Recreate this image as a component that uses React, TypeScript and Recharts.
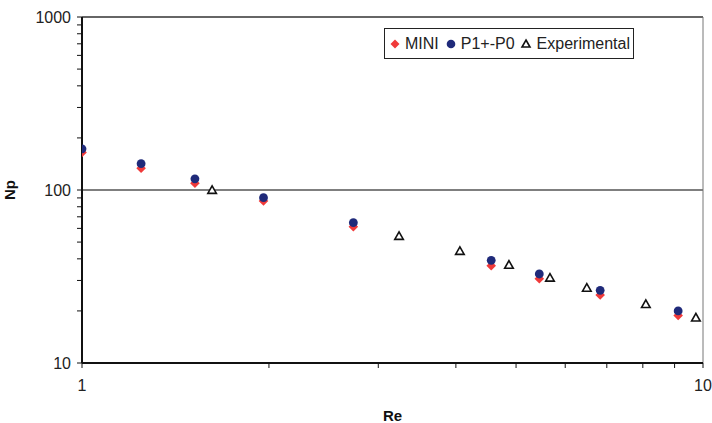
import React from 'react';
import {
  ScatterChart,
  Scatter,
  XAxis,
  YAxis,
  ReferenceLine,
  Legend,
} from 'recharts';

// Reynolds numbers of the computed points
const reValues = [1, 1.245, 1.52, 1.96, 2.735, 4.56, 5.45, 6.83, 9.12];
// Power number, MINI element
const miniNp = [165, 133.5, 109.3, 86.4, 61.3, 36.5, 30.7, 24.7, 18.8];
// Power number, P1+-P0 element
const p1p0Np = [173, 142, 116, 90.3, 64.7, 39.2, 32.7, 26.3, 20.0];
// Experimental measurements
const expRe = [1.62, 3.24, 4.06, 4.87, 5.67, 6.5, 8.09, 9.74];
const expNp = [100, 54.2, 44.4, 36.9, 31.1, 27.2, 21.9, 18.3];

const xTicks = [1, 2, 3, 4, 5, 6, 7, 8, 9, 10];
const yTicks = [10, 20, 30, 40, 50, 60, 70, 80, 90, 100, 200, 300, 400, 500, 600, 700, 800, 900, 1000];
const xLabels = [1, 10];
const yLabels = [10, 100, 1000];

const FONT = '"Liberation Sans", Arial, Helvetica, sans-serif';

const miniData = reValues.map((re, i) => ({ re, np: miniNp[i] }));
const p1p0Data = reValues.map((re, i) => ({ re, np: p1p0Np[i] }));
const expData = expRe.map((re, i) => ({ re, np: expNp[i] }));

const Diamond = ({ cx, cy }: any) => (
  <polygon
    points={`${cx},${cy - 4.8} ${cx + 4.8},${cy} ${cx},${cy + 4.8} ${cx - 4.8},${cy}`}
    fill="#f03a3a"
  />
);

const Dot = ({ cx, cy }: any) => <circle cx={cx} cy={cy} r={4.4} fill="#1f2a7a" />;

const Triangle = ({ cx, cy }: any) => (
  <polygon
    points={`${cx},${cy - 4.2} ${cx + 4.3},${cy + 3.4} ${cx - 4.3},${cy + 3.4}`}
    fill="#fff"
    stroke="#111"
    strokeWidth={1.6}
    strokeLinejoin="miter"
  />
);

const XTick = ({ x, y, payload }: any) =>
  xLabels.includes(payload.value) ? (
    <text x={x} y={y} dy={21} textAnchor="middle" fontSize={16} fill="#222" fontFamily={FONT}>
      {payload.value}
    </text>
  ) : null;

const YTick = ({ x, y, payload }: any) =>
  yLabels.includes(payload.value) ? (
    <text x={x} y={y} dx={-4} dy={5.5} textAnchor="end" fontSize={16} fill="#222" fontFamily={FONT}>
      {payload.value}
    </text>
  ) : null;

const LegendBox = () => (
  <div
    style={{
      border: '1px solid #222',
      width: 250,
      height: 31,
      boxSizing: 'border-box',
      display: 'flex',
      alignItems: 'center',
      fontFamily: FONT,
      fontSize: 16,
      color: '#222',
      background: '#fff',
      whiteSpace: 'nowrap',
    }}
  >
    <svg width={20} height={14}>
      <polygon points="10,2.5 14.5,7 10,11.5 5.5,7" fill="#f03a3a" />
    </svg>
    <span>MINI</span>
    <svg width={20} height={14} style={{ marginLeft: 2 }}>
      <circle cx={10} cy={7} r={4.3} fill="#1f2a7a" />
    </svg>
    <span>P1+-P0</span>
    <svg width={20} height={14} style={{ marginLeft: 2 }}>
      <polygon points="9,3 13,10 5,10" fill="#fff" stroke="#111" strokeWidth={1.6} />
    </svg>
    <span>Experimental</span>
  </div>
);

export default function App() {
  return (
    <div style={{ position: 'absolute', left: 0, top: 0, width: 712, height: 423, background: '#fff' }}>
      <ScatterChart width={712} height={423} margin={{ top: 17, right: 9, left: 0, bottom: 0 }}>
        <XAxis
          type="number"
          dataKey="re"
          scale="log"
          domain={[1, 10]}
          ticks={xTicks}
          interval={0}
          allowDataOverflow
          height={60}
          tickSize={5}
          tickLine={{ stroke: '#111', strokeWidth: 1 }}
          axisLine={{ stroke: '#111', strokeWidth: 2 }}
          tick={<XTick />}
          label={{
            value: 'Re',
            position: 'insideBottom',
            offset: 2,
            style: { fontFamily: FONT, fontSize: 15, fontWeight: 'bold', fill: '#111' },
          }}
        />
        <YAxis
          type="number"
          dataKey="np"
          scale="log"
          domain={[10, 1000]}
          ticks={yTicks}
          interval={0}
          allowDataOverflow
          width={82}
          tickSize={5}
          tickLine={{ stroke: '#111', strokeWidth: 1 }}
          axisLine={{ stroke: '#111', strokeWidth: 2 }}
          tick={<YTick />}
          label={{
            value: 'Np',
            angle: -90,
            position: 'insideLeft',
            offset: 10,
            style: { fontFamily: FONT, fontSize: 15, fontWeight: 'bold', fill: '#111', textAnchor: 'middle' },
          }}
        />
        <ReferenceLine y={1000} stroke="#333" strokeWidth={1.5} />
        <ReferenceLine y={100} stroke="#555" strokeWidth={1.5} />
        <ReferenceLine x={10} stroke="#777" strokeWidth={1} />
        <Legend
          verticalAlign="middle"
          align="center"
          layout="horizontal"
          wrapperStyle={{ left: 384, top: 28, width: 250 }}
          content={<LegendBox />}
        />
        <Scatter name="MINI" data={miniData} shape={<Diamond />} isAnimationActive={false} />
        <Scatter name="P1+-P0" data={p1p0Data} shape={<Dot />} isAnimationActive={false} />
        <Scatter name="Experimental" data={expData} shape={<Triangle />} isAnimationActive={false} />
      </ScatterChart>
    </div>
  );
}
